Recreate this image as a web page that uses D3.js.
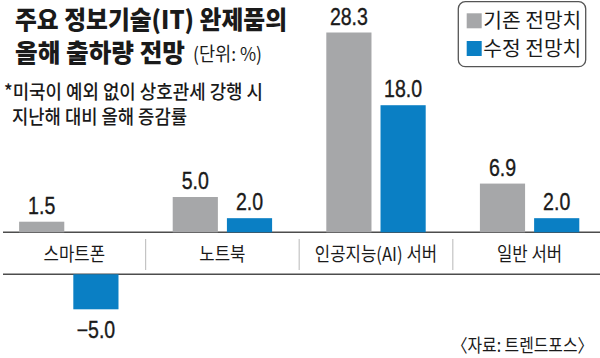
<!DOCTYPE html>
<html><head><meta charset="utf-8">
<script src="https://cdn.jsdelivr.net/npm/d3@7"></script>
<style>body{margin:0;background:#fff} svg{display:block}</style>
</head><body><svg id="c" width="600" height="358"></svg>
<script>
const categories = ["스마트폰", "노트북", "인공지능(AI) 서버", "일반 서버"];
const seriesNames = ["기존 전망치", "수정 전망치"];
const previousValues = [1.5, 5.0, 28.3, 6.9];
const revisedValues = [-5.0, 2.0, 18.0, 2.0];
const seriesColors = ["#a6a7a9", "#0a7fc4"];
const titleLines = ["주요 정보기술(IT) 완제품의", "올해 출하량 전망"];
const unitLabel = "(단위: %)";
const noteLines = ["*미국이 예외 없이 상호관세 강행 시", "지난해 대비 올해 증감률"];
const sourceLabel = "〈자료: 트렌드포스〉";

const KR = "'Noto Sans CJK KR','Noto Sans',sans-serif";
const NUM = "'Liberation Sans',Arial,sans-serif";
const svg = d3.select("#c");

const data = categories.map((c, i) => ({cat: c, vals: [previousValues[i], revisedValues[i]]}));

const x0 = d3.scaleBand().domain(categories).range([-8, 606.4]);
const x1 = d3.scaleBand().domain(seriesNames).range([0, x0.bandwidth()]).paddingInner(1/6).paddingOuter(0.5);
const yPos = d3.scaleLinear().domain([0, 28.3]).range([232.3, 32.5]);
const yNeg = d3.scaleLinear().domain([0, -5]).range([274.3, 309.3]);
const fmt = d3.format(".1f");

// axis lines (broken axis: category band between two lines)
svg.append("line").attr("x1", 3).attr("x2", 600).attr("y1", yPos(0)).attr("y2", yPos(0))
  .attr("stroke", "#4d4d4d").attr("stroke-width", 1.4);
svg.append("line").attr("x1", 3).attr("x2", 600).attr("y1", yNeg(0)).attr("y2", yNeg(0))
  .attr("stroke", "#4d4d4d").attr("stroke-width", 1.4);

// separators
categories.slice(0, -1).forEach(c => {
  const sx = x0(c) + x0.step();
  svg.append("line").attr("x1", sx).attr("x2", sx).attr("y1", 239).attr("y2", 270)
    .attr("stroke", "#c4c4c4").attr("stroke-width", 1.2);
});

// category labels
categories.forEach(c => {
  const left = Math.max(x0(c), 3), right = x0(c) + x0.bandwidth();
  const cx = (left + right) / 2;
  svg.append("text").attr("transform", `translate(${cx},261) scale(0.88,1)`)
    .attr("text-anchor", "middle").attr("font-family", KR).attr("font-size", 19)
    .attr("fill", "#1a1a1a").text(c);
});

// bars & value labels
const g = svg.selectAll("g.grp").data(data).join("g").attr("class", "grp")
  .attr("transform", d => `translate(${x0(d.cat)},0)`);
g.selectAll("rect").data(d => d.vals.map((v, j) => ({v, s: seriesNames[j], j})))
  .join("rect")
  .attr("x", d => x1(d.s)).attr("width", x1.bandwidth())
  .attr("y", d => d.v >= 0 ? yPos(d.v) : yNeg(0))
  .attr("height", d => d.v >= 0 ? yPos(0) - yPos(d.v) : yNeg(d.v) - yNeg(0))
  .attr("fill", d => seriesColors[d.j]);
g.selectAll("text.val").data(d => d.vals.map((v, j) => ({v, s: seriesNames[j], j})))
  .join("text").attr("class", "val")
  .attr("transform", d => {
    const cx = x1(d.s) + x1.bandwidth() / 2;
    const ty = d.v >= 0 ? yPos(d.v) - 8 : yNeg(d.v) + 28.5;
    return `translate(${cx},${ty}) scale(0.85,1)`;
  })
  .attr("text-anchor", "middle").attr("font-family", NUM).attr("font-size", 23)
  .attr("fill", "#1a1a1a").attr("stroke", "#1a1a1a").attr("stroke-width", 0.35)
  .text(d => fmt(d.v));

// title
svg.append("text").attr("x", 15).attr("y", 29).attr("font-family", KR).attr("font-weight", 900)
  .attr("font-size", 25).attr("fill", "#1a1a1a").attr("textLength", 272)
  .attr("lengthAdjust", "spacingAndGlyphs").text(titleLines[0]);
svg.append("text").attr("x", 15).attr("y", 62).attr("font-family", KR).attr("font-weight", 900)
  .attr("font-size", 25).attr("fill", "#1a1a1a").attr("textLength", 170)
  .attr("lengthAdjust", "spacingAndGlyphs").text(titleLines[1]);
svg.append("text").attr("x", 193).attr("y", 61).attr("font-family", KR)
  .attr("font-size", 19).attr("fill", "#1a1a1a").attr("textLength", 69)
  .attr("lengthAdjust", "spacingAndGlyphs").text(unitLabel);

// notes
svg.append("text").attr("x", 4).attr("y", 99).attr("font-family", KR).attr("font-weight", 500)
  .attr("font-size", 19.5).attr("fill", "#1a1a1a").attr("textLength", 259)
  .attr("lengthAdjust", "spacingAndGlyphs").text(noteLines[0]);
svg.append("text").attr("x", 12).attr("y", 123.5).attr("font-family", KR).attr("font-weight", 500)
  .attr("font-size", 19.5).attr("fill", "#1a1a1a").attr("textLength", 175)
  .attr("lengthAdjust", "spacingAndGlyphs").text(noteLines[1]);

// legend
svg.append("rect").attr("x", 458.3).attr("y", 1.7).attr("width", 127.4).attr("height", 65)
  .attr("rx", 7).attr("fill", "#fff").attr("stroke", "#555").attr("stroke-width", 1.3);
seriesNames.forEach((s, j) => {
  const ly = 13.3 + j * 27.7;
  svg.append("rect").attr("x", 466.7).attr("y", ly).attr("width", 15).attr("height", 15)
    .attr("fill", seriesColors[j]);
  svg.append("text").attr("x", 483.3).attr("y", ly + 14.5).attr("font-family", KR)
    .attr("font-size", 20).attr("fill", "#1a1a1a").attr("textLength", 98)
    .attr("lengthAdjust", "spacingAndGlyphs").text(s);
});

// source
svg.append("text").attr("x", 593.3).attr("y", 352).attr("text-anchor", "end").attr("font-family", KR)
  .attr("font-size", 18).attr("fill", "#1a1a1a").attr("textLength", 141.6)
  .attr("lengthAdjust", "spacingAndGlyphs").text(sourceLabel);
</script>
</body></html>
